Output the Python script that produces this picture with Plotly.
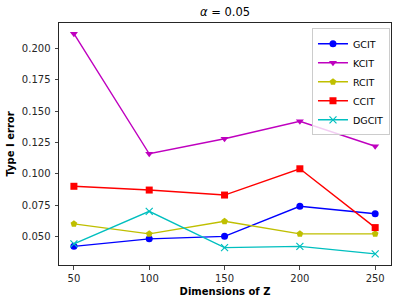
import plotly.graph_objects as go

dims = [50, 100, 150, 200, 250]
gcit = [0.042, 0.048, 0.050, 0.074, 0.068]
kcit = [0.212, 0.116, 0.128, 0.142, 0.122]
rcit = [0.060, 0.052, 0.062, 0.052, 0.052]
ccit = [0.090, 0.087, 0.083, 0.104, 0.057]
dgcit = [0.044, 0.070, 0.041, 0.042, 0.036]

series = [
    ("GCIT", gcit, "#0000ff", "circle", 7),
    ("KCIT", kcit, "#bf00bf", "triangle-down", 7),
    ("RCIT", rcit, "#bfbf00", "pentagon", 7),
    ("CCIT", ccit, "#ff0000", "square", 7),
    ("DGCIT", dgcit, "#00bfbf", "x-thin-open", 7),
]

fig = go.Figure()
for name, vals, col, sym, sz in series:
    marker = dict(symbol=sym, size=sz, color=col)
    if sym == "x-thin-open":
        marker["line"] = dict(color=col, width=1.2)
    fig.add_trace(go.Scatter(x=dims, y=vals, name=name, mode="lines+markers",
                             line=dict(color=col, width=1.4), marker=marker))

font = "DejaVu Sans"
fig.update_layout(
    width=402, height=306,
    margin=dict(l=57, r=10, t=23, b=38),
    plot_bgcolor="white", paper_bgcolor="white",
    font=dict(family=font, size=10, color="#262626"),
    title=dict(text="<i>α</i> = 0.05", x=0.5, xref="paper", y=0.975, yref="container",
               xanchor="center", yanchor="top", font=dict(size=11.5, color="black")),
    showlegend=True,
    legend=dict(x=0.762, y=0.978, xanchor="left", yanchor="top",
                bordercolor="#cccccc", borderwidth=1, bgcolor="rgba(255,255,255,0.8)",
                font=dict(size=9.5, color="black"), tracegroupgap=0, itemwidth=30),
)
fig.update_xaxes(range=[40.1, 260.5], tickvals=dims, ticks="outside", ticklen=3.5,
                 showline=True, linecolor="#262626", linewidth=1, mirror=True,
                 showgrid=False, zeroline=False,
                 title=dict(text="<b>Dimensions of Z</b>", standoff=5, font=dict(size=10, color="black")))
fig.update_yaxes(range=[0.0271, 0.2205], tickvals=[0.05, 0.075, 0.1, 0.125, 0.15, 0.175, 0.2],
                 tickformat=".3f", ticks="outside", ticklen=3.5, ticklabelstandoff=2,
                 showline=True, linecolor="#262626", linewidth=1, mirror=True,
                 showgrid=False, zeroline=False,
                 title=dict(text="<b>Type I error</b>", standoff=5, font=dict(size=10, color="black")))

fig.write_html("out.html", config={"displayModeBar": False},
               post_script="document.body.style.margin='0';document.body.style.padding='0';")
